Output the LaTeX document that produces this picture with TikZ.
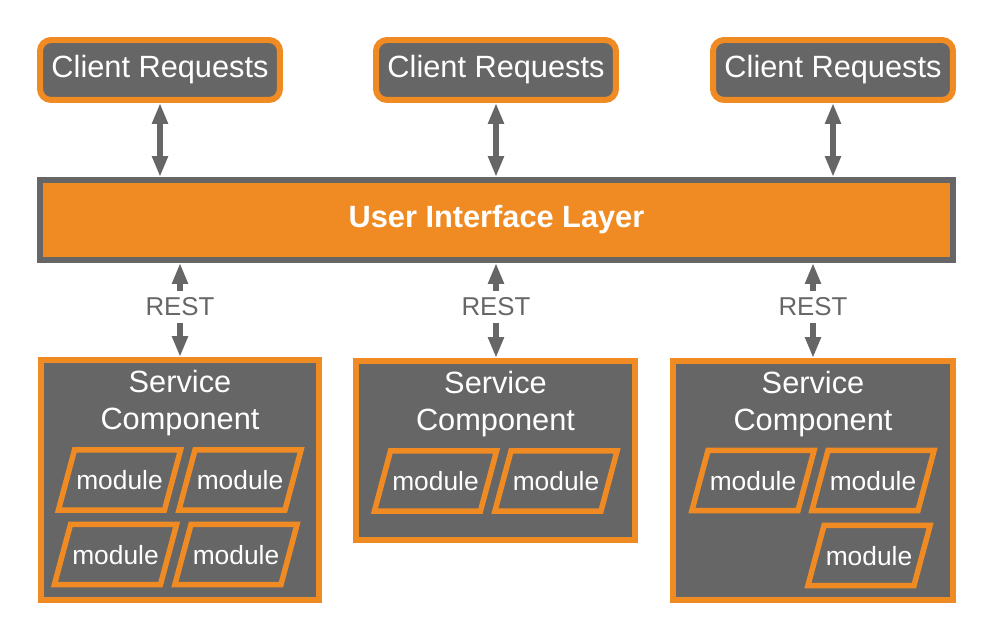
\documentclass[tikz,border=0pt]{standalone}
\usepackage{fontspec}
\setmainfont{Liberation Sans}
\usetikzlibrary{arrows.meta,positioning,shapes.geometric}
\definecolor{boxorange}{HTML}{EF8B22}
\definecolor{boxgray}{HTML}{666666}
\tikzset{
  client/.style={draw=boxorange, fill=boxgray, line width=0.12cm, rounded corners=0.22cm,
    minimum width=4.8cm, minimum height=1.2cm, text=white, font=\fontsize{17.5}{21}\selectfont},
  uilayer/.style={draw=boxgray, fill=boxorange, line width=0.12cm,
    minimum width=18.26cm, minimum height=1.6cm, text=white, font=\fontsize{17.5}{21}\selectfont\bfseries},
  service/.style={draw=boxorange, fill=boxgray, line width=0.12cm},
  title/.style={inner sep=0pt, align=center, text=white, font=\fontsize{17.5}{21.1}\selectfont},
  module/.style={trapezium, trapezium left angle=75, trapezium right angle=105,
    draw=boxorange, fill=boxgray, line width=0.11cm, text height=11pt, text depth=0pt,
    inner xsep=1pt, inner ysep=11.6pt, text=white, font=\fontsize{15}{18}\selectfont},
  rest/.style={inner sep=0.14cm, outer sep=0pt, text=boxgray, font=\fontsize{14.7}{18}\selectfont},
  link/.style={draw=boxgray, line width=0.11cm, -{Triangle[length=0.42cm,width=0.3cm]}},
  twoway/.style={link, {Triangle[length=0.42cm,width=0.3cm]}-{Triangle[length=0.42cm,width=0.3cm]}}
}
\begin{document}
\begin{tikzpicture}[x=0.02cm, y=-0.02cm]
        \useasboundingbox (0,0) rectangle (993,641);

        % Client requests
        \foreach \i/\x in {1/160,2/496,3/833} {
            \node[client] (client\i) at (\x,70) {Client Requests};
        }

        % User interface layer
        \node[uilayer] (ui) at (496.5,220) {User Interface Layer};

        % Connections from clients to the layer
        \foreach \i in {1,2,3} {
            \draw[twoway] (client\i.south) -- (client\i.south |- ui.north);
        }

        % Service components
        \node[service, minimum width=5.58cm, minimum height=4.8cm] (svc1) at (180,480) {};
        \node[service, minimum width=5.58cm, minimum height=3.58cm] (svc2) at (495.5,450.5) {};
        \node[service, minimum width=5.6cm, minimum height=4.78cm] (svc3) at (813,480.5) {};

        % REST connections from the layer to the services
        \foreach \i/\x in {1/180,2/496,3/813} {
            \node[title, below=0.26cm of svc\i.north] (title\i) {Service\\Component};
            \node[rest] (rest\i) at (\x,307) {REST};
            \draw[link] (rest\i) -- (rest\i |- ui.south);
            \draw[link] (rest\i) -- (rest\i |- svc\i.north);
        }

        % Modules
        \foreach \n/\x/\y in {m11/119.5/480, m12/240/480, m13/115.5/554.5, m14/236/554.5,
                             m21/435.5/481, m22/556/481,
                             m31/753/480.5, m32/873/480.5, m33/869/555.5} {
            \node[module] (\n) at (\x,\y) {module};
        }
    \end{tikzpicture}
\end{document}
